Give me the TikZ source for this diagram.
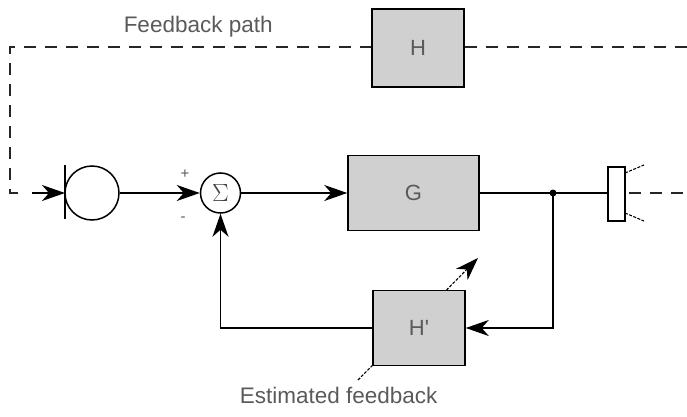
\documentclass[tikz,border=0pt]{standalone}
\usepackage{fontspec}
\setmainfont{Liberation Sans}
\usetikzlibrary{arrows.meta}
\definecolor{boxfill}{HTML}{D0D0D0}
\definecolor{txtgray}{HTML}{5A5A5A}
\begin{document}
\begin{tikzpicture}[x=1pt,y=-1pt,
  line width=1.5pt,
  sig/.style={draw=black,line width=1.5pt},
  sigarrow/.style={sig,-{Stealth[length=23pt,width=16pt,inset=7pt]}},
  fbdash/.style={draw=black!85,line width=1.6pt,dash pattern=on 12pt off 9pt},
  blockbox/.style={draw=black,line width=1.5pt,fill=boxfill,rectangle,inner sep=0pt,
    text=txtgray,font=\fontsize{22}{26}\selectfont},
  lbl/.style={text=txtgray,font=\fontsize{22.5}{27}\selectfont,inner sep=0pt},
  smalllbl/.style={text=txtgray,font=\fontsize{15}{15}\selectfont,inner sep=0pt},
  thindash/.style={draw=black,line width=1.1pt,dash pattern=on 3pt off 1.5pt}
]
\useasboundingbox (0,0) rectangle (687,417);

% blocks
\node[blockbox,minimum width=92pt,minimum height=78pt] (H) at (418,48) {H};
\node[blockbox,minimum width=131pt,minimum height=75pt] (G) at (413.5,193) {G};

% adaptive arrow (behind H')
\coordinate (adA) at (358,380);
\coordinate (adB) at (478,258);
\draw[thindash,-{Stealth[length=23pt,width=16pt,inset=7pt]}] (adA) -- (adB);
\node[blockbox,minimum width=92pt,minimum height=75pt] (Hp) at (419,328) {H\textquotesingle};

% summing junction
\node[circle,draw=black,line width=1.5pt,minimum size=40pt,inner sep=0pt,
  text=black!75] (sum) at (220.5,193) {\fontsize{26}{26}\selectfont$\Sigma$};
\node[smalllbl] (plus) at (185,174) {+};
\node[smalllbl] (minus) at (183,219) {-};

% microphone
\node[circle,draw=black,line width=1.5pt,minimum size=54pt,inner sep=0pt] (mic) at (92,193) {};
\coordinate (barT) at (65,165);
\coordinate (barB) at (65,219);
\coordinate (micin) at (65,193);
\draw[sig] (barT) -- (barB);
\coordinate (src) at (32,193);
\draw[sigarrow] (src) -- (micin);

% loudspeaker
\node[rectangle,draw=black,line width=1.5pt,minimum width=17pt,minimum height=54pt,
  inner sep=0pt] (spk) at (616.5,194) {};
\coordinate (coneTa) at (625,173);
\coordinate (coneTb) at (644,165);
\coordinate (coneBa) at (625,213);
\coordinate (coneBb) at (644,221);
\draw[thindash] (coneTa) -- (coneTb);
\draw[thindash] (coneBa) -- (coneBb);

% signal path
\draw[sigarrow] (mic.east) -- (sum.west);
\draw[sigarrow] (sum.east) -- (G.west);
\coordinate (junc) at (553,193);
\draw[sig] (G.east) -- (junc);
\draw[sig] (junc) -- (spk.west |- junc);
\fill (junc) circle (3.5pt);
\coordinate (jdown) at (553,328);
\draw[sigarrow] (junc) -- (jdown) -- (Hp.east);
\draw[sigarrow] (Hp.west) -| (sum.south);

% feedback path (dashed)
\coordinate (fbL) at (10,193);
\coordinate (fbLe) at (18,193);
\coordinate (fbTL) at (10,47);
\coordinate (fbTR) at (687,47);
\coordinate (spkOut) at (629,193);
\coordinate (fbR) at (687,193);
\draw[fbdash] (fbLe) -- (fbL) -- (fbTL) -- (fbTL -| H.west);
\draw[fbdash] (H.east |- fbTR) -- (fbTR);
\draw[fbdash] (spkOut) -- (fbR);

% labels
\node[lbl,anchor=base west] (fblabel) at (123,33) {Feedback path};
\node[lbl,anchor=base west] (estlabel) at (239,403) {Estimated feedback};
\end{tikzpicture}
\end{document}
